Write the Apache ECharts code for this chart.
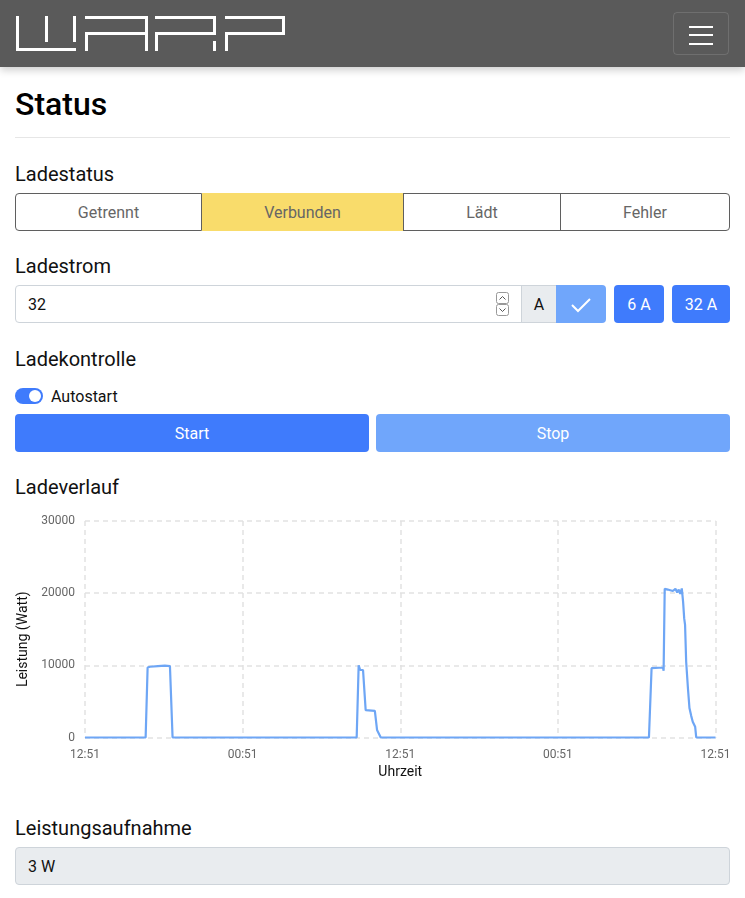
<!DOCTYPE html>
<html lang="de">
<head>
<meta charset="utf-8">
<title>WARP Status</title>
<script src="https://cdn.jsdelivr.net/npm/echarts@6/dist/echarts.min.js"></script>
<style>
html, body { margin: 0; padding: 0; width: 745px; height: 898px; overflow: hidden; background: #fff; }
body { font-family: Roboto, sans-serif; color: #000; position: relative; }
.abs { position: absolute; box-sizing: border-box; }
.navbar { left: 0; top: 0; width: 745px; height: 67px; background: #5a5a5a; box-shadow: 0 3px 8px rgba(0,0,0,.2); }
.toggler { left: 673px; top: 12px; width: 56px; height: 43px; border: 1px solid rgba(255,255,255,.13); border-radius: 4px; }
.bar { left: 689px; width: 24px; height: 2px; background: #fff; }
.title { left: 15px; top: 85px; font-size: 32px; line-height: 38px; font-weight: 500; }
.hr { left: 15px; top: 137px; width: 715px; height: 1px; background: #e6e6e6; }
.label { left: 15px; font-size: 20px; line-height: 24px; color: #111; }
.cell { top: 193px; height: 38px; border: 1px solid #5f5f5f; color: #666; font-size: 16px; line-height: 38px; text-align: center; }
.btn { color: #fff; font-size: 16px; line-height: 40px; text-align: center; border-radius: 4px; }
.blue { background: #3f7bfc; }
.light { background: #70a6fb; }
.input { font-size: 16px; line-height: 38px; border: 1px solid #ced4da; padding-left: 12px; color: #111; }
</style>
</head>
<body>
<div class="abs navbar"></div>
<svg class="abs" style="left:0;top:0" width="300" height="67" fill="#fff">
  <rect x="16" y="16" width="3" height="35"/><rect x="16" y="48" width="60" height="3"/><rect x="45" y="16" width="3" height="26"/><rect x="73" y="16" width="3" height="26"/>
  <rect x="85" y="16" width="63" height="3"/><rect x="145" y="16" width="3" height="35"/><rect x="85" y="32" width="63" height="3"/><rect x="85" y="32" width="3" height="19"/>
  <rect x="155" y="16" width="61" height="3"/><rect x="213" y="16" width="3" height="19"/><rect x="155" y="32" width="61" height="3"/><rect x="155" y="32" width="3" height="19"/><rect x="213" y="41" width="3" height="10"/>
  <rect x="225" y="16" width="60" height="3"/><rect x="282" y="16" width="3" height="19"/><rect x="225" y="32" width="60" height="3"/><rect x="225" y="32" width="3" height="19"/>
</svg>
<div class="abs toggler"></div>
<div class="abs bar" style="top:26px"></div>
<div class="abs bar" style="top:34px"></div>
<div class="abs bar" style="top:43px"></div>

<div class="abs title">Status</div>
<div class="abs hr"></div>

<div class="abs label" style="top:162px">Ladestatus</div>
<div class="abs cell" style="left:15px;width:187px;border-radius:4px 0 0 4px">Getrennt</div>
<div class="abs cell" style="left:202px;width:201px;background:#f9dc6b;border-color:#f9dc6b">Verbunden</div>
<div class="abs cell" style="left:403px;width:158px">Lädt</div>
<div class="abs cell" style="left:560px;width:170px;border-radius:0 4px 4px 0">Fehler</div>

<div class="abs label" style="top:254px">Ladestrom</div>
<div class="abs input" style="left:15px;top:285px;width:507px;height:38px;border-radius:4px 0 0 4px">32</div>
<svg class="abs" style="left:495px;top:291px" width="15" height="26" fill="none" stroke="#555" stroke-width="1">
  <rect x="1.5" y="1.5" width="12" height="11" rx="2" stroke="#999"/><rect x="1.5" y="13.5" width="12" height="11" rx="2" stroke="#999"/>
  <path d="M4.5 8.5 L7.5 5.5 L10.5 8.5"/><path d="M4.5 17.5 L7.5 20.5 L10.5 17.5"/>
</svg>
<div class="abs input" style="left:521px;top:285px;width:35px;height:38px;background:#e9ecef;padding:0;text-align:center;border-right:0">A</div>
<div class="abs light" style="left:556px;top:285px;width:50px;height:38px;border-radius:0 4px 4px 0"></div>
<svg class="abs" style="left:570px;top:296px" width="22" height="18" fill="none" stroke="#fff" stroke-width="2"><path d="M2 9 L8 15 L20 3"/></svg>
<div class="abs btn blue" style="left:614px;top:285px;width:50px;height:38px">6 A</div>
<div class="abs btn blue" style="left:672px;top:285px;width:58px;height:38px">32 A</div>

<div class="abs label" style="top:347px">Ladekontrolle</div>
<div class="abs blue" style="left:15px;top:388px;width:28px;height:16px;border-radius:8px"></div>
<div class="abs" style="left:29px;top:390px;width:12px;height:12px;border-radius:50%;background:#fff"></div>
<div class="abs" style="left:51px;top:387px;font-size:16px;line-height:20px;color:#111">Autostart</div>
<div class="abs btn blue" style="left:15px;top:414px;width:354px;height:38px">Start</div>
<div class="abs btn light" style="left:376px;top:414px;width:354px;height:38px">Stop</div>

<div class="abs label" style="top:475px">Ladeverlauf</div>
<div class="abs" id="main" style="left:0;top:505px;width:745px;height:285px"></div>

<div class="abs label" style="top:816px">Leistungsaufnahme</div>
<div class="abs input" style="left:15px;top:847px;width:715px;height:38px;background:#e9ecef;border-radius:4px">3 W</div>

<script>
var timeTickLabels = ['12:51', '00:51', '12:51', '00:51', '12:51'];
var powerTicks = [0, 10000, 20000, 30000];

// minutes since the left edge of the chart
var minutes = [0, 277, 286, 297, 333, 365, 388, 392, 400,
    1241, 1250, 1257, 1270, 1282, 1324, 1334, 1343, 1351,
    2576, 2588, 2594, 2640, 2643, 2648, 2662, 2685, 2697, 2705, 2712, 2719, 2726,
    2732, 2737, 2741, 2746, 2754, 2761, 2769, 2776, 2787, 2792, 2880];
var watts = [0, 0, 9700, 9800, 9900, 9950, 9900, 9850, 0,
    0, 10000, 9350, 9350, 3800, 3700, 1040, 950, 0,
    0, 9600, 9800, 9700, 9250, 20600, 20500, 20300, 20600, 20100, 20500, 19900, 20650,
    18800, 16500, 15600, 10500, 6860, 4090, 3000, 2190, 1500, 0, 0];

var points = [];
for (var i = 0; i < minutes.length; i++) {
    points.push([minutes[i], watts[i]]);
}

var gridLine = { show: true, lineStyle: { color: '#e2e2e2', type: [5, 4], width: 1.5 } };

var myChart = echarts.init(document.getElementById('main'));
myChart.setOption({
    animation: false,
    grid: { left: 85, right: 29.5, top: 16, height: 216.5 },
    xAxis: {
        type: 'value',
        min: 0,
        max: 2880,
        interval: 720,
        name: 'Uhrzeit',
        nameLocation: 'middle',
        nameGap: 28,
        nameTextStyle: { color: '#111', fontSize: 14, fontFamily: 'Roboto' },
        axisLine: { show: false },
        axisTick: { show: false },
        splitLine: gridLine,
        axisLabel: {
            color: '#666', fontSize: 12, fontFamily: 'Roboto', margin: 11,
            formatter: function (v) { return timeTickLabels[v / 720]; }
        }
    },
    yAxis: {
        type: 'value',
        min: powerTicks[0],
        max: powerTicks[powerTicks.length - 1],
        interval: 10000,
        name: 'Leistung (Watt)',
        nameLocation: 'middle',
        nameGap: 47,
        nameTextStyle: { color: '#111', fontSize: 14, fontFamily: 'Roboto', padding: [0, 20, 0, 0] },
        axisLine: { show: false },
        axisTick: { show: false },
        splitLine: gridLine,
        axisLabel: {
            color: '#666', fontSize: 12, fontFamily: 'Roboto', margin: 10, padding: [1, 0, 0, 0],
            formatter: function (v) { return String(v); }
        }
    },
    series: [{
        type: 'line',
        data: points,
        showSymbol: false,
        smooth: false,
        clip: false,
        lineStyle: { color: '#6ea6f5', width: 2.2 }
    }]
});
</script>
</body>
</html>
